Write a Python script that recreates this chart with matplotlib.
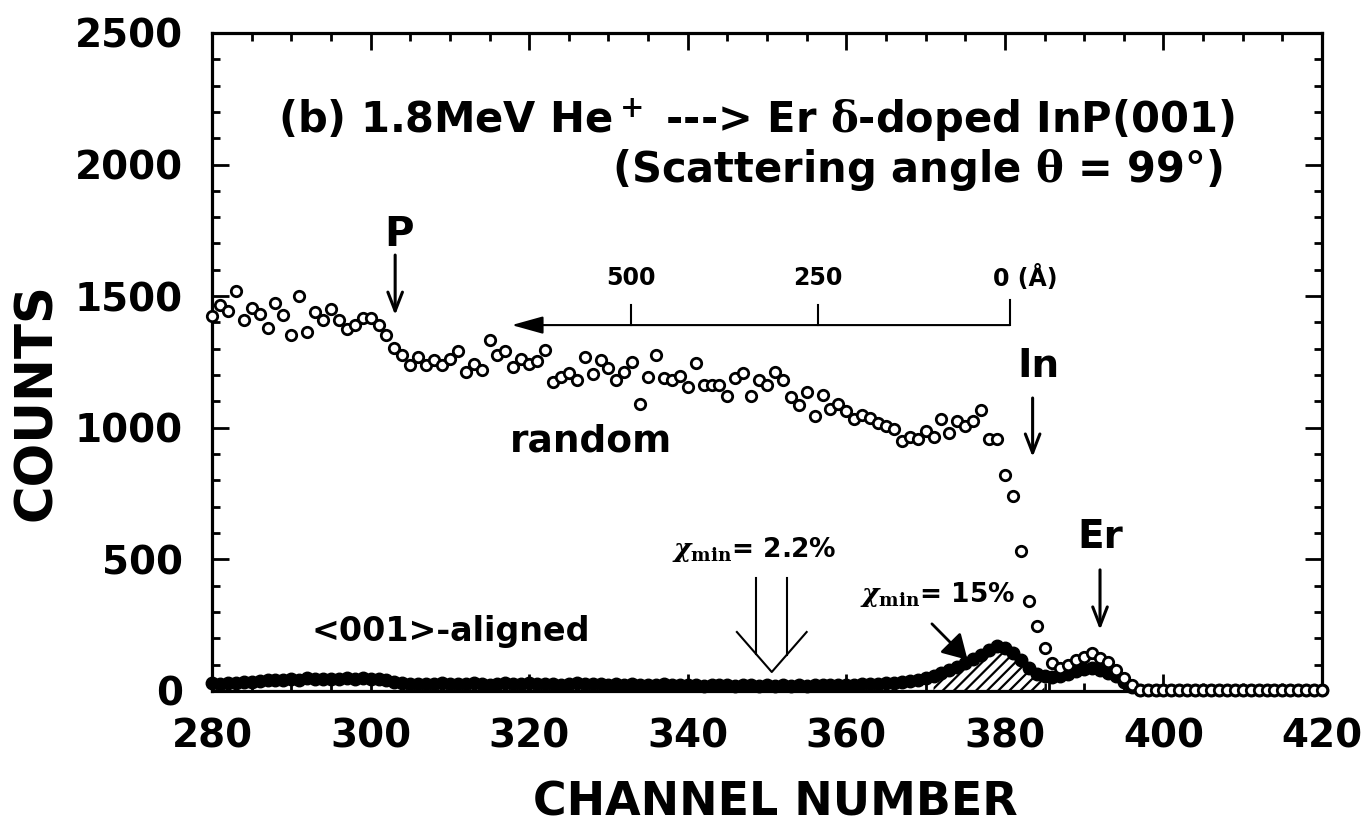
import matplotlib
matplotlib.use('Agg')
import matplotlib.pyplot as plt
import matplotlib.ticker as mticker

plt.rcParams['font.family'] = ['DejaVu Sans']
plt.rcParams['font.weight'] = 'bold'
plt.rcParams['mathtext.fontset'] = 'dejavuserif'
plt.rcParams['hatch.linewidth'] = 1.6

# channel numbers, one point per channel
channels = list(range(280, 421))

# random spectrum (open circles)
random_counts = [
    1425, 1465, 1443, 1518, 1408, 1455, 1433, 1380, 1474, 1429,   # 280
    1351, 1500, 1363, 1439, 1408, 1452, 1408, 1376, 1391, 1418,   # 290
    1418, 1389, 1351, 1304, 1278, 1240, 1268, 1240, 1259, 1237,   # 300
    1262, 1291, 1211, 1243, 1220, 1332, 1275, 1291, 1230, 1262,   # 310
    1243, 1252, 1296, 1173, 1192, 1207, 1182, 1268, 1205, 1258,   # 320
    1226, 1180, 1211, 1249, 1091, 1192, 1277, 1189, 1183, 1195,   # 330
    1154, 1247, 1161, 1163, 1163, 1122, 1189, 1208, 1122, 1180,   # 340
    1163, 1211, 1180, 1116, 1088, 1135, 1043, 1126, 1072, 1091,   # 350
    1063, 1033, 1049, 1036, 1017, 1005, 996, 949, 966, 958,       # 360
    987, 966, 1033, 979, 1025, 1005, 1025, 1069, 958, 958,        # 370
    821, 741, 532, 342, 245, 163, 105, 86, 99, 118,               # 380
    130, 143, 124, 111, 80, 48, 23, 4, 3, 3,                      # 390
    3, 2, 3, 2, 3, 2, 2, 3, 2, 3,                                 # 400
    2, 3, 2, 2, 3, 2, 3, 2, 2, 3,                                 # 410
    2,                                                            # 420
]

# <001> aligned spectrum (filled circles)
aligned_counts = [
    30, 28, 32, 30, 35, 33, 38, 40, 42, 40,         # 280
    45, 42, 48, 45, 47, 44, 46, 48, 45, 50,         # 290
    47, 45, 40, 35, 30, 28, 25, 28, 26, 30,         # 300
    27, 25, 28, 30, 26, 24, 28, 30, 25, 27,         # 310
    30, 28, 26, 25, 24, 27, 29, 26, 28, 25,         # 320
    24, 26, 22, 25, 23, 24, 22, 25, 23, 22,         # 330
    24, 22, 20, 23, 21, 22, 20, 22, 21, 20,         # 340
    22, 20, 21, 19, 22, 20, 21, 22, 24, 23,         # 350
    22, 24, 25, 27, 28, 30, 32, 35, 38, 42,         # 360
    50, 58, 68, 78, 92, 108, 122, 138, 155, 172,    # 370
    165, 145, 118, 88, 65, 55, 52, 58, 66, 75,      # 380
    82, 86, 80, 70, 58, 35, 15, 5, 3, 2,            # 390
    2, 2, 2, 2, 2, 2, 2, 2, 2, 2,                   # 400
    2, 2, 2, 2, 2, 2, 2, 2, 2, 2,                   # 410
    2,                                              # 420
]

# In surface peak region that is hatched
hatch_start = 371
hatch_end = 385

# depth scale (Angstrom) drawn above the spectrum
depth_labels = ['500', '250']
depth_channels = [332.9, 356.4]
depth_zero = 380.6
depth_level = 1390

fig = plt.figure(figsize=(13.66, 8.27), dpi=100)
ax = fig.add_axes([0.1552, 0.1645, 0.8126, 0.7957])

# hatched area under the In peak of aligned spectrum
hx = [c for c in channels if hatch_start <= c <= hatch_end]
hy = [aligned_counts[channels.index(c)] for c in hx]
ax.fill_between(hx, 0, hy, facecolor='white', edgecolor='k', hatch='///', lw=0, zorder=2)
ax.plot([hatch_end + 0.6, hatch_end + 0.6], [0, aligned_counts[channels.index(hatch_end)]],
        color='k', lw=2, zorder=2)

ax.plot(channels, aligned_counts, '-', color='k', lw=4, marker='o', ms=9,
        mfc='k', mec='k', zorder=3, clip_on=False)
ax.plot(channels, random_counts, 'o', mfc='white', mec='k', ms=7.5, mew=2,
        zorder=4, clip_on=False)

ax.set_xlim(280, 420)
ax.set_ylim(0, 2500)
ax.xaxis.set_major_locator(mticker.MultipleLocator(20))
ax.xaxis.set_minor_locator(mticker.MultipleLocator(5))
ax.yaxis.set_major_locator(mticker.MultipleLocator(500))
ax.yaxis.set_minor_locator(mticker.MultipleLocator(100))
ax.tick_params(which='both', direction='in', top=True, right=True, width=2)
ax.tick_params(which='major', length=12, labelsize=28)
ax.tick_params(which='minor', length=6)
ax.tick_params(axis='x', pad=19)
ax.tick_params(axis='y', pad=21)
for s in ax.spines.values():
    s.set_linewidth(2.3)

fig.text(775 / 1366, 1 - 803 / 827, 'CHANNEL NUMBER', ha='center', va='center', fontsize=33)
fig.text(37 / 1366, 1 - 402 / 827, 'COUNTS', rotation=90, ha='center', va='center', fontsize=37)

# title
ax.text(288.3, 2169, '(b) 1.8MeV He$^+$ ---> Er $\\mathrm{\\delta}$-doped InP(001)',
        ha='left', va='center', fontsize=30)
ax.text(407.5, 1979, '(Scattering angle $\\mathrm{\\theta}$ = 99°)',
        ha='right', va='center', fontsize=30)

# element markers
arrow_kw = dict(arrowstyle='->,head_length=0.9,head_width=0.35', lw=2.2, color='k',
                mutation_scale=15, shrinkA=0, shrinkB=0)
ax.text(303.6, 1732, 'P', ha='center', va='center', fontsize=29)
ax.annotate('', xy=(303.1, 1428), xytext=(303.1, 1656), arrowprops=arrow_kw)
ax.text(384.2, 1235, 'In', ha='center', va='center', fontsize=28)
ax.annotate('', xy=(383.5, 889), xytext=(383.5, 1113), arrowprops=arrow_kw)
ax.text(392.0, 585, 'Er', ha='center', va='center', fontsize=28)
ax.annotate('', xy=(392.0, 232), xytext=(392.0, 460), arrowprops=arrow_kw)

ax.text(327.8, 946, 'random', ha='center', va='center', fontsize=27)
ax.text(292.6, 224, '<001>-aligned', ha='left', va='center', fontsize=24)

# chi_min labels
ax.text(338.0, 536, '$\\chi_{\\mathrm{min}}$= 2.2%', ha='left', va='center', fontsize=19)
ax.plot([348.6, 348.6], [429, 141], color='k', lw=1.5)
ax.plot([352.5, 352.5], [429, 137], color='k', lw=1.5)
ax.plot([346.2, 350.6, 355.0], [224, 72, 224], color='k', lw=1.5)

ax.text(361.7, 365, '$\\chi_{\\mathrm{min}}$= 15%', ha='left', va='center', fontsize=19)
ax.annotate('', xy=(375.3, 118), xytext=(370.8, 255),
            arrowprops=dict(arrowstyle='-|>,head_length=0.6,head_width=0.35', lw=2,
                            color='k', mutation_scale=25, shrinkA=0, shrinkB=0))

# depth scale
ax.annotate('', xy=(317.8, depth_level), xytext=(depth_zero, depth_level),
            arrowprops=dict(arrowstyle='-|>,head_length=0.97,head_width=0.27', lw=1.5,
                            color='k', mutation_scale=20, shrinkA=0, shrinkB=0))
for c, lab in zip(depth_channels, depth_labels):
    ax.plot([c, c], [depth_level, 1466], color='k', lw=1.5)
    ax.text(c, 1569, lab, ha='center', va='center', fontsize=17)
ax.plot([depth_zero, depth_zero], [depth_level, 1485], color='k', lw=1.5)
ax.text(378.5, 1569, '0 (Å)', ha='left', va='center', fontsize=17)

plt.savefig('out.png', dpi=100)
